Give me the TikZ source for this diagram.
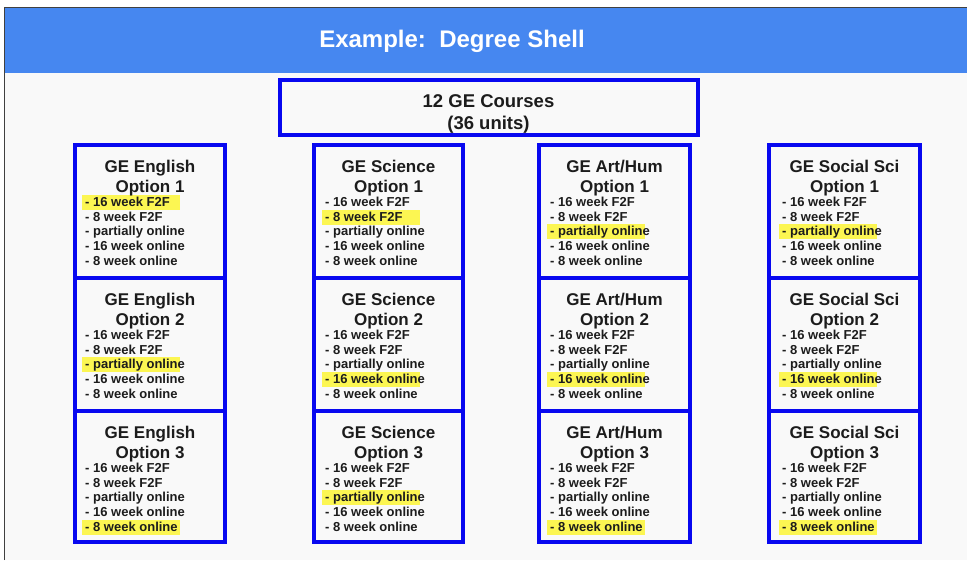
\documentclass[tikz,border=0pt]{standalone}
\usepackage{fontspec}
\setmainfont{Liberation Sans}
\definecolor{hdr}{RGB}{70,135,240}
\definecolor{bx}{RGB}{8,8,240}
\definecolor{hl}{RGB}{252,246,82}
\definecolor{bgc}{RGB}{249,249,249}
\definecolor{ink}{RGB}{28,28,28}
\begin{document}
\begin{tikzpicture}[x=1pt,y=-1pt,
  gebox/.style={draw=bx,line width=4pt,inner sep=0pt,rectangle},
  boxtitle/.style={anchor=base,inner sep=0pt,text=ink,font=\bfseries\fontsize{17}{20}\selectfont},
  item/.style={anchor=base west,inner sep=0pt,text=ink,font=\bfseries\fontsize{13}{15}\selectfont},
  hlbar/.style={fill=hl}]
\useasboundingbox (0,0) rectangle (967,560);
\fill[white] (0,0) rectangle (967,560);
\fill[bgc] (4,7) rectangle (967,560);
\fill[hdr] (4,7) rectangle (967,73);
\draw[black!75,line width=1pt] (4,560) -- (4,7) -- (967,7);
\node[anchor=base,inner sep=0pt,text=white,font=\bfseries\fontsize{24}{28}\selectfont] (title) at (452,47) {Example:\ \ Degree Shell};
% top box
\node[gebox,minimum width=418pt,minimum height=55pt] (top) at (488.5,107.5) {};
\node[anchor=base,inner sep=0pt,text=ink,font=\bfseries\fontsize{18.5}{22}\selectfont] (topa) at (488.5,107) {12 GE Courses};
\node[anchor=base,inner sep=0pt,text=ink,font=\bfseries\fontsize{18.5}{22}\selectfont] (topb) at (488.5,129) {(36 units)};
% columns
\foreach \c/\name/\l/\r/\ix/\ha/\hb/\hc in {1/GE English/75/225/85/1/3/5, 2/GE Science/314/463/325/2/4/3, 3/GE Art\slash Hum/539/690/550/3/4/5, 4/GE Social Sci/769/920/782/3/4/5}{
  \foreach \row/\t/\h in {1/145/133, 2/278/133, 3/411/131}{
    \pgfmathtruncatemacro\hlk{\row==1 ? \ha : (\row==2 ? \hb : \hc)}
    \pgfmathsetmacro\cx{(\l+\r)/2}
    \pgfmathsetmacro\cy{\t+\h/2}
    \pgfmathsetmacro\w{\r-\l}
    \foreach \k/\txt in {1/{- 16 week F2F}, 2/{- 8 week F2F}, 3/{- partially online}, 4/{- 16 week online}, 5/{- 8 week online}}{
      \pgfmathsetmacro\by{\t+61.5+(\k-1)*14.7}
      \ifnum\k=\hlk
        \fill[hlbar] (\ix-3,\by-11.5) rectangle (\ix+95,\by+3.5);
      \fi
      \node[item] (it-\c-\row-\k) at (\ix,\by) {\txt};
    }
    \node[boxtitle] (ta-\c-\row) at (\cx,\t+27.5) {\name};
    \node[boxtitle] (tb-\c-\row) at (\cx,\t+47) {Option \row};
    \node[gebox,minimum width=\w pt,minimum height=\h pt] (box-\c-\row) at (\cx,\cy) {};
  }
}
\end{tikzpicture}
\end{document}
